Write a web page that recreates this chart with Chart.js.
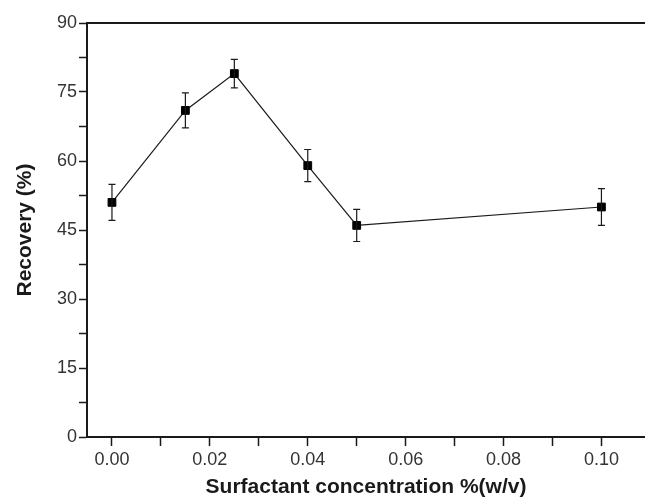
<!DOCTYPE html>
<html>
<head>
<meta charset="utf-8">
<script src="https://cdn.jsdelivr.net/npm/chart.js@4.4.0/dist/chart.umd.min.js"></script>
<style>
  html, body { margin: 0; padding: 0; background: #fff; }
  #wrap { width: 645px; height: 500px; }
</style>
</head>
<body>
<div id="wrap"><canvas id="recoveryChart" width="645" height="500"></canvas></div>
<script>
// data
const concentration = [0.0, 0.015, 0.025, 0.04, 0.05, 0.1];
const recovery = [51, 71, 79, 59, 46, 50];
const recoveryErr = [3.9, 3.8, 3.1, 3.5, 3.5, 4.0];

const xTicks = [0, 0.02, 0.04, 0.06, 0.08, 0.1];
const yTicks = [0, 15, 30, 45, 60, 75, 90];

const ink = "#1a1a1a";
const labelColor = "#333";
const fontFamily = "'Liberation Sans', Arial, sans-serif";

const points = concentration.map((c, i) => ({ x: c, y: recovery[i] }));

// error bars + top frame line
const errorBars = {
  id: "errorBars",
  afterDatasetsDraw(chart) {
    const { ctx, scales } = chart;
    const xs = scales.x, ys = scales.y;
    ctx.save();
    ctx.strokeStyle = ink;
    ctx.lineWidth = 1.2;
    points.forEach((p, i) => {
      const px = xs.getPixelForValue(p.x);
      const top = ys.getPixelForValue(p.y + recoveryErr[i]);
      const bot = ys.getPixelForValue(p.y - recoveryErr[i]);
      ctx.beginPath();
      ctx.moveTo(px, top); ctx.lineTo(px, bot);
      ctx.moveTo(px - 3.5, top); ctx.lineTo(px + 3.5, top);
      ctx.moveTo(px - 3.5, bot); ctx.lineTo(px + 3.5, bot);
      ctx.stroke();
    });
    ctx.restore();
  },
  afterDraw(chart) {
    const { ctx, chartArea } = chart;
    ctx.save();
    ctx.strokeStyle = ink;
    ctx.lineWidth = 2;
    ctx.beginPath();
    ctx.moveTo(chartArea.left, chartArea.top);
    ctx.lineTo(chartArea.right, chartArea.top);
    ctx.stroke();
    ctx.restore();
  }
};

new Chart(document.getElementById("recoveryChart"), {
  type: "scatter",
  data: {
    datasets: [{
      data: points,
      showLine: true,
      borderColor: ink,
      borderWidth: 1.2,
      backgroundColor: "#000",
      pointStyle: "rect",
      pointRadius: 5.5,
      pointBorderWidth: 1,
      pointBorderColor: "#000"
    }]
  },
  options: {
    responsive: false,
    animation: false,
    layout: { autoPadding: false, padding: { top: 23, right: 0, left: 0, bottom: 0 } },
    plugins: {
      legend: { display: false },
      tooltip: { enabled: false }
    },
    scales: {
      x: {
        type: "linear",
        min: -0.0051,
        max: 0.1089,
        afterFit(scale) {
          scale.height = 63;
          scale.paddingLeft = 0;
          scale.paddingRight = 0;
        },
        border: { display: true, color: ink, width: 2 },
        grid: { drawOnChartArea: false, drawTicks: true, tickLength: 9, tickColor: ink, tickWidth: 1.5 },
        ticks: {
          stepSize: 0.01,
          includeBounds: false,
          autoSkip: false,
          maxRotation: 0,
          padding: 3,
          color: labelColor,
          font: { family: fontFamily, size: 18 },
          callback(v) {
            const n = Math.round(v * 100);
            return n % 2 === 0 && xTicks.includes(n / 100) ? (n / 100).toFixed(2) : "";
          }
        },
        title: {
          display: true,
          text: "Surfactant concentration %(w/v)",
          color: ink,
          font: { family: fontFamily, size: 21, weight: "bold" },
          padding: { top: 0, bottom: 0 }
        }
      },
      y: {
        min: 0,
        max: 90,
        afterFit(scale) { scale.width = 87; },
        border: { display: true, color: ink, width: 2 },
        grid: { drawOnChartArea: false, drawTicks: true, tickLength: 8, tickColor: ink, tickWidth: 1.5 },
        ticks: {
          stepSize: 7.5,
          autoSkip: false,
          padding: 2,
          color: labelColor,
          font: { family: fontFamily, size: 18 },
          callback(v) { return yTicks.includes(v) ? String(v) : ""; }
        },
        title: {
          display: true,
          text: "Recovery (%)",
          color: ink,
          font: { family: fontFamily, size: 21, weight: "bold" },
          padding: { top: 13, bottom: 0 }
        }
      }
    }
  },
  plugins: [errorBars]
});
</script>
</body>
</html>
